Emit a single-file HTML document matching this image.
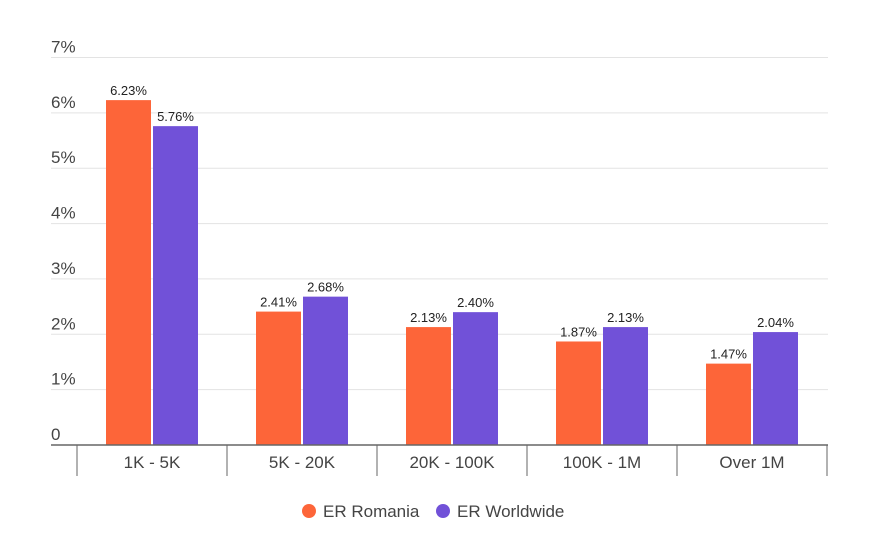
<!DOCTYPE html>
<html><head><meta charset="utf-8"><style>
body{margin:0;background:#fff;}
svg{display:block;font-family:"Liberation Sans",sans-serif;}
</style></head><body>
<svg id="chart" width="894" height="545" viewBox="0 0 894 545" xmlns="http://www.w3.org/2000/svg">
<g id="grid"></g>
<g id="ylabels"></g>
<g id="bars"></g>
<g id="xaxis"></g>
<g>
 <g>
  <circle cx="309" cy="511" r="7" fill="#fd6539"/>
  <text x="323" y="517" font-size="17" fill="#444">ER Romania</text>
 </g>
 <g>
  <circle cx="443" cy="511" r="7" fill="#7151d8"/>
  <text x="457" y="517" font-size="17" fill="#444">ER Worldwide</text>
 </g>
</g>
</svg>
<script>
const categories=["1K - 5K","5K - 20K","20K - 100K","100K - 1M","Over 1M"];
const romania=[6.23,2.41,2.13,1.87,1.47];
const worldwide=[5.76,2.68,2.40,2.13,2.04];
const yTicks=[0,1,2,3,4,5,6,7];
const yTickLabels=["0","1%","2%","3%","4%","5%","6%","7%"];
const NS="http://www.w3.org/2000/svg";
const y0=445,yTop=57.5,yMax=7;
function y(v){return y0-(v/yMax)*(y0-yTop);}
const xStart=77,band=150;
function xc(i){return xStart+band*i+band/2;}
function mk(t,a,p){const e=document.createElementNS(NS,t);for(const k in a)e.setAttribute(k,a[k]);p.appendChild(e);return e;}
const grid=document.getElementById('grid'),yl=document.getElementById('ylabels'),bars=document.getElementById('bars'),xa=document.getElementById('xaxis');
yTicks.forEach((t,i)=>{
 if(t>0){const l=mk('line',{x1:51,x2:828,y1:y(t),y2:y(t),stroke:'#e3e3e3','stroke-width':1},grid);
 
 }
 const tx=mk('text',{x:51,y:y(t)-5,'font-size':17,fill:'#444'},yl);
 tx.textContent=yTickLabels[i];
 
 
});
const bw=45,gap=2;
categories.forEach((c,i)=>{
 [[romania,'#fd6539',-1],[worldwide,'#7151d8',1]].forEach(([s,col,d])=>{
  const v=s[i];const x=d<0?xc(i)-gap/2-bw:xc(i)+gap/2;
  const r=mk('rect',{x:x,y:y(v),width:bw,height:y0-y(v),fill:col},bars);
  
  
  const t=mk('text',{x:x+bw/2,y:y(v)-5,'font-size':13,fill:'#222','text-anchor':'middle'},bars);
  t.textContent=v.toFixed(2)+'%';
  
  
 });
 const t=mk('text',{x:xc(i),y:468,'font-size':17,fill:'#444','text-anchor':'middle'},xa);
 t.textContent=c;
 
 
});
const base=mk('line',{x1:51,x2:828,y1:y0,y2:y0,stroke:'#666','stroke-width':1.5},xa);


for(let i=0;i<=categories.length;i++){
 const tk=mk('line',{x1:xStart+band*i,x2:xStart+band*i,y1:y0,y2:476,stroke:'#666','stroke-width':1},xa);
 
 
}
</script>
</body></html>
